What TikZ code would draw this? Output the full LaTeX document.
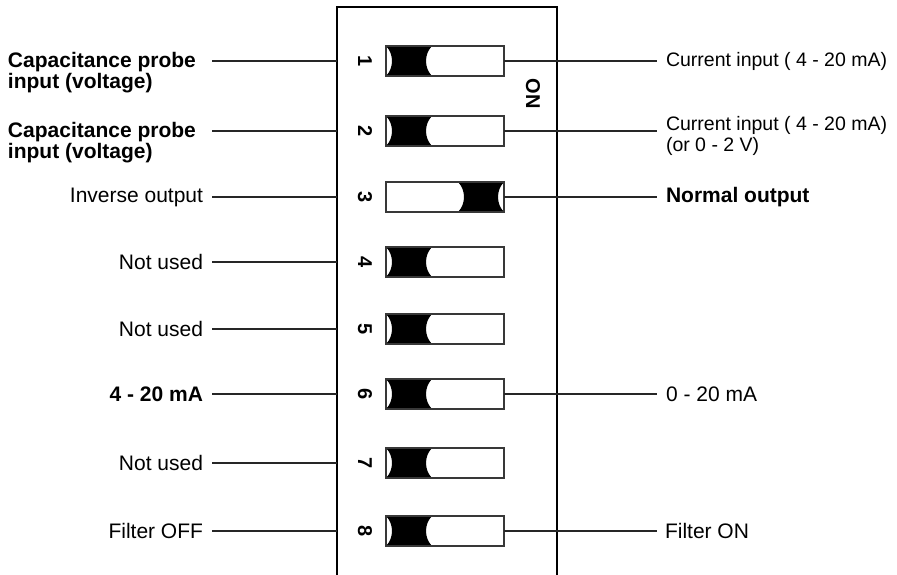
\documentclass[tikz,border=0pt]{standalone}
\usepackage{fontspec}
\setmainfont{Liberation Sans}
\begin{document}
\begin{tikzpicture}[x=1pt,y=-1pt,
  lbl/.style={font=\fontsize{21}{21}\selectfont, inner sep=0pt, outer sep=0pt},
  lbls/.style={font=\fontsize{19.5}{21}\selectfont, inner sep=0pt, outer sep=0pt},
  lblb/.style={font=\fontsize{21}{21}\selectfont\bfseries, inner sep=0pt, outer sep=0pt},
  num/.style={font=\fontsize{20}{20}\selectfont\bfseries, rotate=-90, inner sep=0pt},
  sw/.style={draw=black!78, line width=1.2pt, minimum width=118pt, minimum height=30pt, inner sep=0pt, outer sep=0pt},
  lead/.style={line width=1.2pt, draw=black!85},
  frame/.style={draw=black, line width=2.3pt, minimum width=220pt, minimum height=800pt, inner sep=0pt, outer sep=0pt, anchor=north}
]
\useasboundingbox (0,0) rectangle (897,575);

% housing (open at the bottom, continues past the page)
\node[frame] (box) at (447,7) {};
\node[num] (on) at (533,94) {ON};

% switches: position OFF (black on the left)
\foreach \i/\y in {1/61,2/131,4/262,5/329,6/394,7/463,8/531}{
  \fill (386,\y-15) -- (432,\y-15) .. controls (424,\y-7) and (424,\y+7) .. (432,\y+15)
        -- (386,\y+15) .. controls (394,\y+7) and (394,\y-7) .. (386,\y-15);
}
% switch 3: position ON (black on the right)
\fill (458,197-15) -- (504,197-15) .. controls (496,197-7) and (496,197+7) .. (504,197+15)
      -- (458,197+15) .. controls (466,197+7) and (466,197-7) .. (458,197-15);

\foreach \i/\y in {1/61,2/131,3/197,4/262,5/329,6/394,7/463,8/531}{
  \node[sw] (s\i) at (445,\y) {};
  \node[num] (n\i) at (365,\y) {\i};
  \coordinate (L\i) at (212,\y);
  \draw[lead] (L\i) -- (L\i -| box.west);
}

% left labels
\node[lblb, anchor=north west, align=left] (l1) at (8,52) {Capacitance probe\\input (voltage)};
\node[lblb, anchor=north west, align=left] (l2) at (8,122) {Capacitance probe\\input (voltage)};
\node[lbl, anchor=east] (l3) at (203,197) {Inverse output};
\node[lbl, anchor=east] (l4) at (203,262) {Not used};
\node[lbl, anchor=east] (l5) at (203,329) {Not used};
\node[lblb, anchor=east] (l6) at (203,394) {4 - 20 mA};
\node[lbl, anchor=east] (l7) at (203,463) {Not used};
\node[lbl, anchor=east] (l8) at (203,531) {Filter OFF};

% right labels and leaders
\foreach \i/\y in {1/61,2/131,3/197,6/394,8/531}{
  \coordinate (R\i) at (657,\y);
  \draw[lead] (s\i.east) -- (R\i);
}
\node[lbls, anchor=west] (r1) at (666,61) {Current input ( 4 - 20 mA)};
\node[lbls, anchor=north west, align=left] (r2) at (666,116) {Current input ( 4 - 20 mA)\\(or 0 - 2 V)};
\node[lblb, anchor=west] (r3) at (666,197) {Normal output};
\node[lbl, anchor=west] (r6) at (666,394) {0 - 20 mA};
\node[lbl, anchor=west] (r8) at (665,531) {Filter ON};
\end{tikzpicture}
\end{document}
